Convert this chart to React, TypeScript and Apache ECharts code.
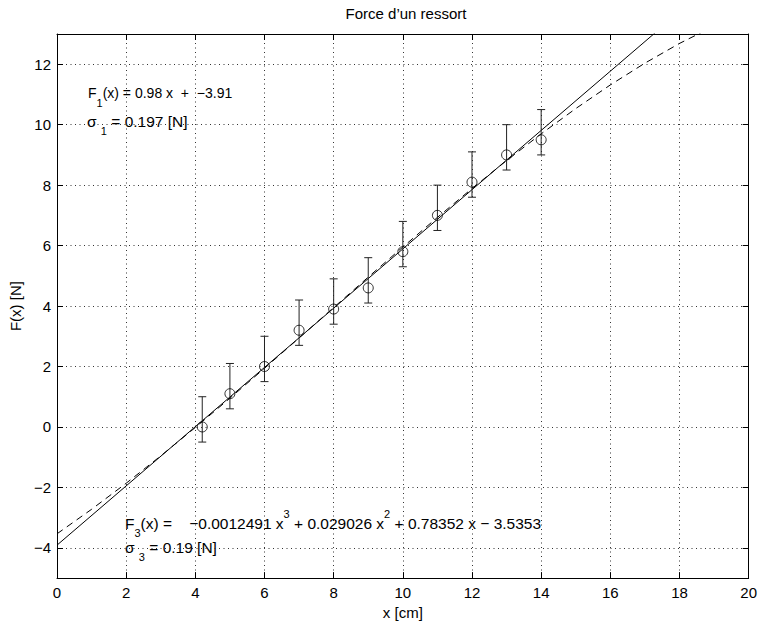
import React, { useEffect, useRef } from 'react';
import * as echarts from 'echarts';

// Measured points
const xData = [4.2, 5, 6, 7, 8, 9, 10, 11, 12, 13, 14];
const yData = [0, 1.1, 2.0, 3.2, 3.9, 4.6, 5.8, 7.0, 8.1, 9.0, 9.5];
const errLow = [0.5, 0.5, 0.5, 0.5, 0.5, 0.5, 0.5, 0.5, 0.5, 0.5, 0.5];
const errHigh = [1.0, 1.0, 1.0, 1.0, 1.0, 1.0, 1.0, 1.0, 1.0, 1.0, 1.0];

// Linear fit line (solid)
const fit1X = [0, 20];
const fit1Y = [-3.91, 15.69];

// Cubic fit curve (dashed)
const fit3X = [0, 1, 2, 3, 4, 5, 6, 7, 8, 9, 10, 11, 12, 13, 14, 15, 16, 17, 18, 19, 20];
const fit3Y = [-3.535, -2.724, -1.862, -0.957, -0.017, 0.952, 1.941, 2.943, 3.951, 4.957, 5.953,
  6.933, 7.888, 8.812, 9.696, 10.533, 11.315, 12.036, 12.688, 13.262, 13.75];

// Ticks
const xTicks = [0, 2, 4, 6, 8, 10, 12, 14, 16, 18, 20];
const yTicks = [-4, -2, 0, 2, 4, 6, 8, 10, 12];

const FONT = '"Liberation Sans", Arial, Helvetica, sans-serif';

const fmt = (v: number) => (v < 0 ? '\u2212' + Math.abs(v) : String(v));

function makeRich(size: number) {
  const base = { fontFamily: FONT, color: '#000' };
  return {
    n: { ...base, fontSize: size, lineHeight: 30, verticalAlign: 'middle' },
    sub10: { ...base, fontSize: 11, lineHeight: 10, verticalAlign: 'bottom' },
    sub8: { ...base, fontSize: 11, lineHeight: 14, verticalAlign: 'bottom' },
    sub7: { ...base, fontSize: 11, lineHeight: 16, verticalAlign: 'bottom' },
    sub5: { ...base, fontSize: 11, lineHeight: 20, verticalAlign: 'bottom' },
    sup: { ...base, fontSize: 11, lineHeight: 20, verticalAlign: 'top' },
  };
}

export default function App() {
  const ref = useRef<HTMLDivElement>(null);
  useEffect(() => {
    if (!ref.current) return;
    const chart = echarts.init(ref.current, null, { renderer: 'svg' });

    const gridLine = { show: true, lineStyle: { color: '#333', type: [1, 3.5], width: 1 } };
    const axisLine = { show: true, onZero: false, lineStyle: { color: '#000', width: 1 } };
    const tick = { show: true, inside: true, length: 6, lineStyle: { color: '#000', width: 1 } };

    const option: any = {
      animation: false,
      backgroundColor: '#fff',
      textStyle: { fontFamily: FONT },
      title: {
        text: 'Force d\u2019un ressort',
        left: 401,
        top: 1,
        textAlign: 'center',
        textStyle: { fontSize: 15, fontWeight: 'normal', color: '#000', fontFamily: FONT },
      },
      grid: { left: 53, right: 10, top: 34, bottom: 41, containLabel: false },
      xAxis: [
        {
          type: 'value',
          min: 0,
          max: 20,
          interval: 2,
          position: 'bottom',
          name: 'x [cm]',
          nameLocation: 'middle',
          nameGap: 25,
          nameTextStyle: { fontSize: 15, color: '#000', fontFamily: FONT },
          axisLine,
          axisTick: tick,
          axisLabel: { color: '#000', fontSize: 15, margin: 7, fontFamily: FONT, formatter: fmt },
          splitLine: gridLine,
        },
        {
          type: 'value',
          min: 0,
          max: 20,
          interval: 2,
          position: 'top',
          axisLine,
          axisTick: tick,
          axisLabel: { show: false },
          splitLine: { show: false },
        },
      ],
      yAxis: [
        {
          type: 'value',
          min: -5,
          max: 13,
          position: 'left',
          name: 'F(x) [N]',
          nameLocation: 'middle',
          nameGap: 28,
          nameRotate: 90,
          nameTextStyle: { fontSize: 15, color: '#000', fontFamily: FONT },
          axisLine,
          axisTick: { ...tick, customValues: yTicks },
          axisLabel: { color: '#000', fontSize: 15, margin: 6, fontFamily: FONT, customValues: yTicks, formatter: fmt },
          splitLine: gridLine,
        },
        {
          type: 'value',
          min: -5,
          max: 13,
          position: 'right',
          axisLine,
          axisTick: { ...tick, customValues: yTicks },
          axisLabel: { show: false, customValues: yTicks },
          splitLine: { show: false },
        },
      ],
      series: [
        {
          type: 'line',
          data: fit1X.map((x, i) => [x, fit1Y[i]]),
          symbol: 'none',
          clip: true,
          lineStyle: { color: '#000', width: 1 },
          z: 3,
        },
        {
          type: 'line',
          data: fit3X.map((x, i) => [x, fit3Y[i]]),
          symbol: 'none',
          clip: true,
          lineStyle: { color: '#000', width: 1, type: [7, 5] },
          z: 3,
        },
        {
          type: 'custom',
          data: xData.map((x, i) => [x, yData[i], errLow[i], errHigh[i]]),
          encode: { x: 0, y: 1 },
          clip: true,
          z: 4,
          renderItem: (params: any, api: any) => {
            const x = api.value(0);
            const y = api.value(1);
            const lo = api.value(2);
            const hi = api.value(3);
            const pTop = api.coord([x, y + hi]);
            const pBot = api.coord([x, y - lo]);
            const cap = 4;
            const style = { stroke: '#222', lineWidth: 1 };
            return {
              type: 'group',
              children: [
                { type: 'line', shape: { x1: pTop[0], y1: pTop[1], x2: pBot[0], y2: pBot[1] }, style },
                { type: 'line', shape: { x1: pTop[0] - cap, y1: pTop[1], x2: pTop[0] + cap, y2: pTop[1] }, style },
                { type: 'line', shape: { x1: pBot[0] - cap, y1: pBot[1], x2: pBot[0] + cap, y2: pBot[1] }, style },
              ],
            };
          },
        },
        {
          type: 'scatter',
          data: xData.map((x, i) => [x, yData[i]]),
          symbol: 'circle',
          symbolSize: 10,
          itemStyle: { color: 'rgba(0,0,0,0)', borderColor: '#000', borderWidth: 1 },
          z: 5,
        },
      ],
      graphic: [
        {
          type: 'text',
          left: 88,
          top: 86,
          style: {
            text: '{n|F}{sub10|1}{n|(x) = 0.98 x  +  \u22123.91}',
            rich: makeRich(14),
          },
        },
        {
          type: 'text',
          left: 87,
          top: 113,
          style: {
            text: '{n|\u03c3 }{sub8|1}{n| = 0.197 [N]}',
            rich: makeRich(15.5),
          },
        },
        {
          type: 'text',
          left: 125,
          top: 508,
          style: {
            text: '{n|F}{sub5|3}{n|(x) =    \u22120.0012491 x}{sup|3}{n| + 0.029026 x}{sup|2}{n| + 0.78352 x \u2212 3.5353}',
            rich: makeRich(15.5),
          },
        },
        {
          type: 'text',
          left: 125,
          top: 539,
          style: {
            text: '{n|\u03c3 }{sub7|3}{n| = 0.19 [N]}',
            rich: makeRich(15.5),
          },
        },
      ],
    };

    chart.setOption(option);
    return () => {
      chart.dispose();
    };
  }, []);

  return (
    <div
      ref={ref}
      style={{ position: 'fixed', left: 0, top: 0, width: 760, height: 625, background: '#fff' }}
    />
  );
}
